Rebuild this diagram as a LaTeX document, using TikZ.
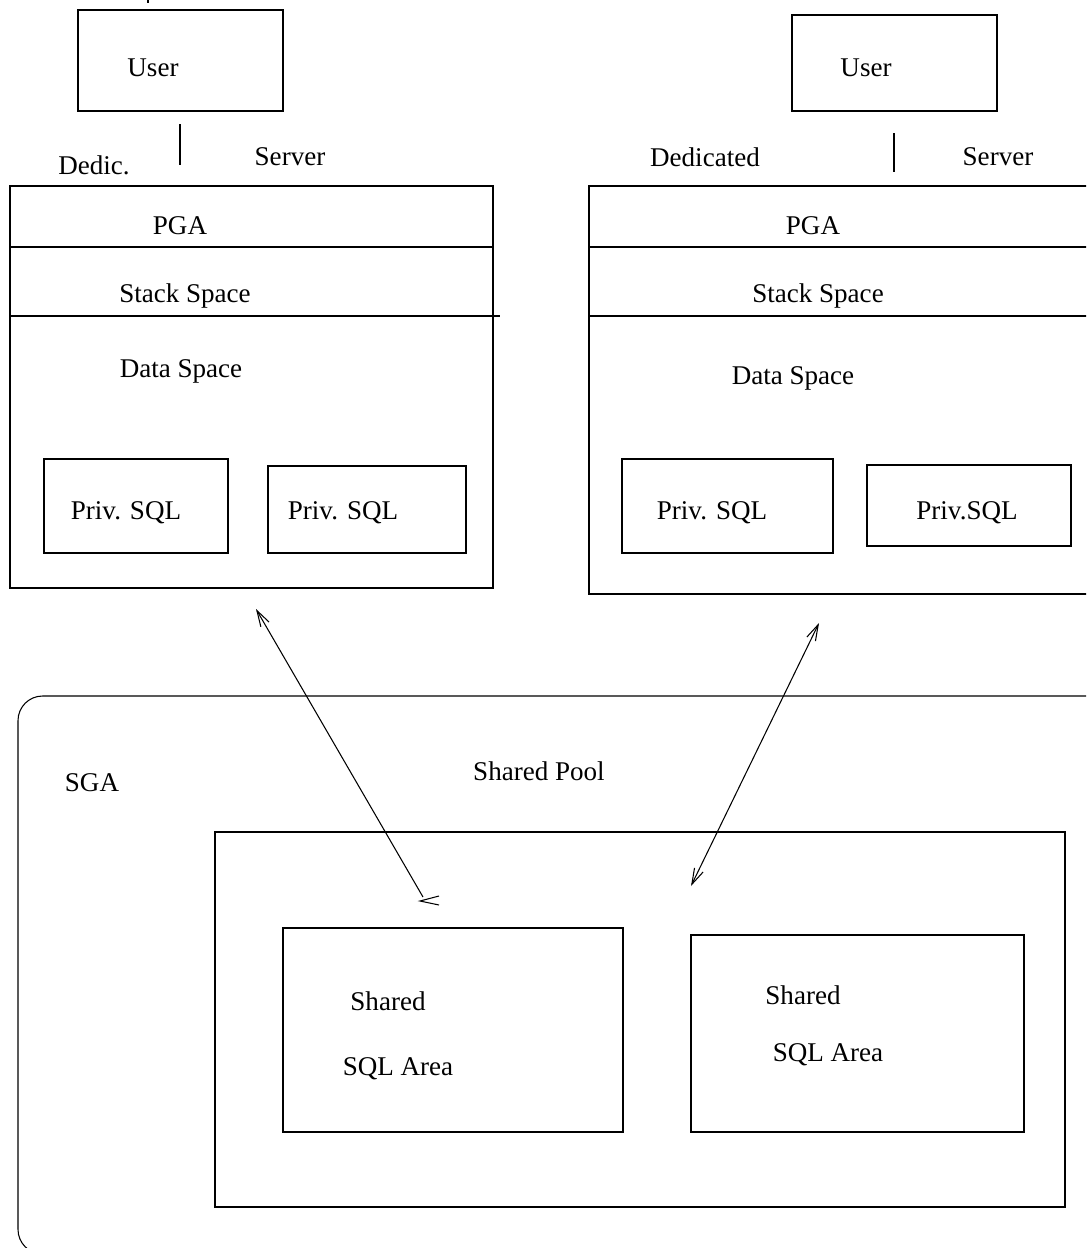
\documentclass[tikz,border=0pt]{standalone}
\usepackage{fontspec}
\setmainfont{Liberation Serif}
\usetikzlibrary{arrows.meta}
% rectangle node from its top-left and bottom-right corner (picture units)
\newcommand\pxbox[5]{%
  \node[box, minimum width={(#4-#2)*0.02cm}, minimum height={(#5-#3)*0.02cm}]
    (#1) at (#2,#3) {};}
\begin{document}
\begin{tikzpicture}[x=0.02cm, y=-0.02cm, line width=0.6pt,
  lbl/.style={font=\fontsize{15.4}{18}\selectfont, inner sep=0pt},
  box/.style={draw, line width=0.6pt, inner sep=0pt, outer sep=0pt, anchor=north west},
  barb/.tip={Straight Barb[length=0.32cm, width=0.19cm]}]
\useasboundingbox (0,0) rectangle (1086,1248);
\clip (0,0) rectangle (1086,1248);

% ---------------- left dedicated server ----------------
\pxbox{userL}{78}{10}{283}{111}
\node[lbl] (userLt) at (153,68) {User};
\coordinate (tickLa) at (180,124);
\coordinate (tickLb) at (180,165);
\draw (tickLa) -- (tickLb);
\node[lbl] (dedL) at (94,165) {Dedic.};
\node[lbl] (srvL) at (290,157) {Server};

\pxbox{pgaL}{10}{186}{493}{588}
\draw (10,247) -- (493,247);
\draw (10,316) -- (500,316);
\node[lbl] (pgaLt) at (180,226) {PGA};
\node[lbl] (stkL) at (185,296) {Stack Space};
\node[lbl] (datL) at (181,371) {Data Space};
\pxbox{privLa}{44}{459}{228}{553}
\node[lbl] at (126,513) {Priv. SQL};
\pxbox{privLb}{268}{466}{466}{553}
\node[lbl] at (343,513) {Priv. SQL};

% ---------------- right dedicated server ----------------
\pxbox{userR}{792}{15}{997}{111}
\node[lbl] (userRt) at (866,68) {User};
\coordinate (tickRa) at (894,133);
\coordinate (tickRb) at (894,172);
\draw (tickRa) -- (tickRb);
\node[lbl] (dedR) at (705,157) {Dedicated};
\node[lbl] (srvR) at (998,157) {Server};

\pxbox{pgaR}{589}{186}{1100}{594}
\draw (589,247) -- (1100,247);
\draw (589,316) -- (1100,316);
\node[lbl] (pgaRt) at (813,226) {PGA};
\node[lbl] (stkR) at (818,296) {Stack Space};
\node[lbl] (datR) at (793,378) {Data Space};
\pxbox{privRa}{622}{459}{833}{553}
\node[lbl] at (712,513) {Priv. SQL};
\pxbox{privRb}{867}{465}{1071}{546}
\node[lbl] at (967,513) {Priv.SQL};

% ---------------- SGA ----------------
\draw[rounded corners=14] (18,696) rectangle (1120,1254);
\node[lbl] (sga) at (92,783) {SGA};
\node[lbl] (pool) at (539,771) {Shared Pool};
\pxbox{poolbox}{215}{832}{1065}{1207}

\pxbox{areaA}{283}{928}{623}{1132}
\node[lbl] at (388,1001) {Shared};
\node[lbl] at (398,1069) {SQL Area};
\pxbox{areaB}{691}{935}{1024}{1132}
\node[lbl] at (803,995) {Shared};
\node[lbl] at (828,1055) {SQL Area};

% ---------------- PGA <-> shared pool connectors ----------------
\coordinate (ltop) at (256,609);
\coordinate (lbot) at (423,897);
\draw[-barb] (lbot) -- (ltop);
\draw (439,896) -- (420,901) -- (439,905);

\coordinate (rtop) at (819,623);
\coordinate (rbot) at (691,886);
\draw[barb-barb] (rbot) -- (rtop);

\draw (148,0) -- (148,3);
\end{tikzpicture}
\end{document}
